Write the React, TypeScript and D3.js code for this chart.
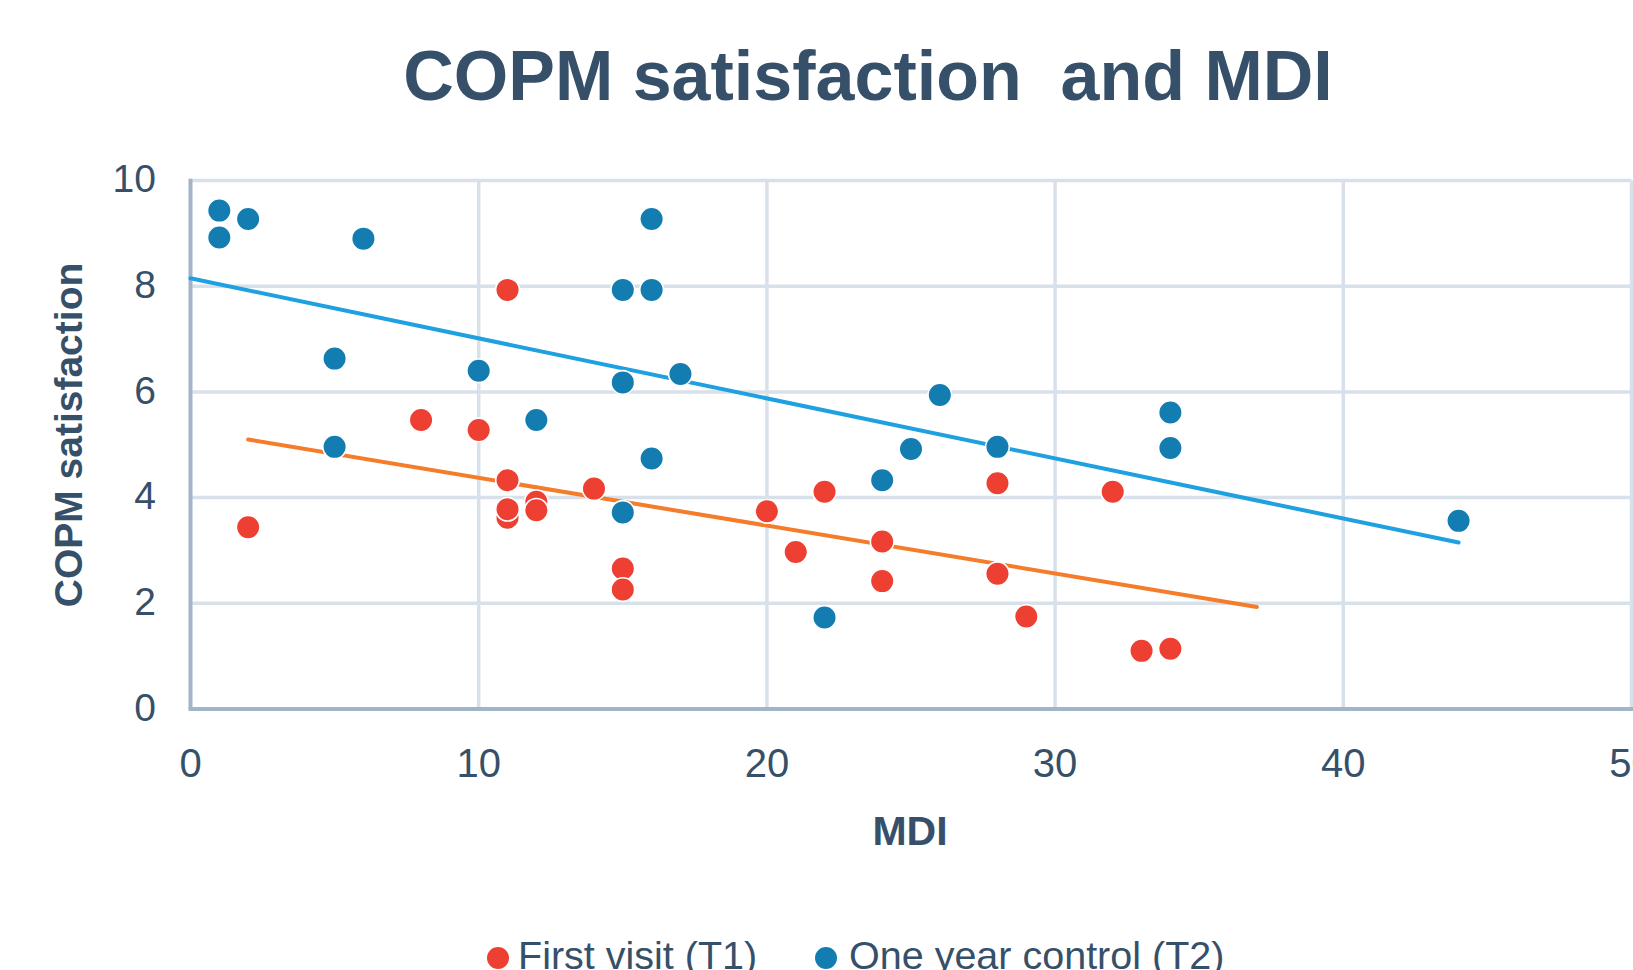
import React, { useEffect, useRef } from "react";
import * as d3 from "d3";

// First visit (T1)
const t1Mdi = [11, 2, 8, 10, 11, 11, 11, 12, 12, 14, 15, 15, 20, 21, 22, 24, 24, 28, 28, 29, 32, 33, 34];
const t1Sat = [7.93, 3.44, 5.47, 5.28, 4.33, 3.62, 3.78, 3.92, 3.76, 4.17, 2.66, 2.26, 3.74, 2.97, 4.11, 3.17, 2.42, 4.27, 2.56, 1.75, 4.11, 1.1, 1.14];

// One year control (T2)
const t2Mdi = [1, 1, 2, 6, 5, 5, 10, 12, 15, 16, 16, 15, 17, 16, 15, 22, 24, 25, 26, 28, 34, 34, 44];
const t2Sat = [9.43, 8.92, 9.27, 8.9, 6.63, 4.96, 6.4, 5.47, 7.93, 7.93, 9.27, 6.18, 6.34, 4.74, 3.72, 1.73, 4.33, 4.92, 5.94, 4.96, 5.61, 4.94, 3.56];

// linear trend lines (start / end)
const t1TrendX = [2, 37];
const t1TrendY = [5.1, 1.93];
const t2TrendX = [0, 44];
const t2TrendY = [8.15, 3.15];

const xTicks = [0, 10, 20, 30, 40, 50];
const yTicks = [0, 2, 4, 6, 8, 10];

const textColor = "#36506a";
const font = "'Liberation Sans', Arial, sans-serif";

const draw = (el: SVGSVGElement) => {
  const svg = d3.select(el);
  svg.selectAll("*").remove();

  const x = d3.scaleLinear().domain([0, 50]).range([190.5, 1631.5]);
  const y = d3.scaleLinear().domain([0, 10]).range([709, 180.5]);

  // title
  svg.append("text")
    .attr("x", 868)
    .attr("y", 100)
    .attr("text-anchor", "middle")
    .attr("font-family", font)
    .attr("font-weight", "bold")
    .attr("font-size", 70)
    .attr("fill", textColor)
    .style("white-space", "pre")
    .text("COPM satisfaction  and MDI");

  // grid
  const grid = svg.append("g");
  grid.selectAll(".gx")
    .data(xTicks.slice(1))
    .join("line")
    .attr("x1", (d) => x(d)).attr("x2", (d) => x(d))
    .attr("y1", y(10)).attr("y2", y(0))
    .attr("stroke", "#d8e1e9")
    .attr("stroke-width", 3.5);
  grid.selectAll(".gy")
    .data(yTicks.slice(1))
    .join("line")
    .attr("x1", x(0)).attr("x2", x(50))
    .attr("y1", (d) => y(d)).attr("y2", (d) => y(d))
    .attr("stroke", "#d8e1e9")
    .attr("stroke-width", 3.5);

  // axes lines
  svg.append("line")
    .attr("x1", x(0)).attr("x2", x(0))
    .attr("y1", y(10) - 1.75).attr("y2", y(0))
    .attr("stroke", "#a2b5c6").attr("stroke-width", 4);
  svg.append("line")
    .attr("x1", x(0) - 2).attr("x2", x(50) + 2)
    .attr("y1", y(0)).attr("y2", y(0))
    .attr("stroke", "#a2b5c6").attr("stroke-width", 4);

  // tick labels
  svg.append("g").selectAll("text")
    .data(yTicks)
    .join("text")
    .attr("x", 156)
    .attr("y", (d) => y(d))
    .attr("dy", "0.3em")
    .attr("text-anchor", "end")
    .attr("font-family", font)
    .attr("font-size", 39)
    .attr("fill", textColor)
    .text((d) => d);
  svg.append("g").selectAll("text")
    .data(xTicks)
    .join("text")
    .attr("x", (d) => x(d))
    .attr("y", 777)
    .attr("text-anchor", "middle")
    .attr("font-family", font)
    .attr("font-size", 40)
    .attr("fill", textColor)
    .text((d) => d);

  // axis titles
  svg.append("text")
    .attr("x", 910).attr("y", 845)
    .attr("text-anchor", "middle")
    .attr("font-family", font).attr("font-weight", "bold")
    .attr("font-size", 41).attr("fill", textColor)
    .text("MDI");
  svg.append("text")
    .attr("transform", "translate(68,435) rotate(-90)")
    .attr("text-anchor", "middle")
    .attr("dy", "0.36em")
    .attr("font-family", font).attr("font-weight", "bold")
    .attr("font-size", 39).attr("fill", textColor)
    .text("COPM satisfaction");

  // trend lines
  const line = d3.line<[number, number]>()
    .x((d) => x(d[0]))
    .y((d) => y(d[1]));
  svg.append("path")
    .datum(t1TrendX.map((v, i) => [v, t1TrendY[i]] as [number, number]))
    .attr("fill", "none")
    .attr("stroke", "#f47c2a")
    .attr("stroke-width", 4)
    .attr("stroke-linecap", "round")
    .attr("d", line);
  svg.append("path")
    .datum(t2TrendX.map((v, i) => [v, t2TrendY[i]] as [number, number]))
    .attr("fill", "none")
    .attr("stroke", "#1fa0e0")
    .attr("stroke-width", 4)
    .attr("stroke-linecap", "round")
    .attr("d", line);

  // points
  const series = [
    { xs: t1Mdi, ys: t1Sat, color: "#ee3f33" },
    { xs: t2Mdi, ys: t2Sat, color: "#137db1" },
  ];
  series.forEach((s) => {
    svg.append("g").selectAll("circle")
      .data(s.xs.map((v, i) => [v, s.ys[i]]))
      .join("circle")
      .attr("cx", (d) => x(d[0]))
      .attr("cy", (d) => y(d[1]))
      .attr("r", 11.8)
      .attr("fill", s.color)
      .attr("stroke", "#fff")
      .attr("stroke-width", 1.6);
  });

  // legend
  const legend = [
    { label: "First visit (T1)", color: "#ee3f33", cx: 498, tx: 518 },
    { label: "One year control (T2)", color: "#137db1", cx: 826, tx: 849 },
  ];
  legend.forEach((l) => {
    svg.append("circle")
      .attr("cx", l.cx).attr("cy", 958).attr("r", 11.8)
      .attr("fill", l.color).attr("stroke", "#fff").attr("stroke-width", 1.6);
    svg.append("text")
      .attr("x", l.tx).attr("y", 969)
      .attr("font-family", font).attr("font-size", 39.5)
      .attr("fill", textColor)
      .text(l.label);
  });
};

function App() {
  const ref = useRef<SVGSVGElement>(null);
  useEffect(() => {
    if (ref.current) draw(ref.current);
  }, []);

  return (
    <svg
      ref={ref}
      width={1633}
      height={970}
      style={{ position: "absolute", left: 0, top: 0, background: "#fff" }}
    />
  );
}

export default App;
